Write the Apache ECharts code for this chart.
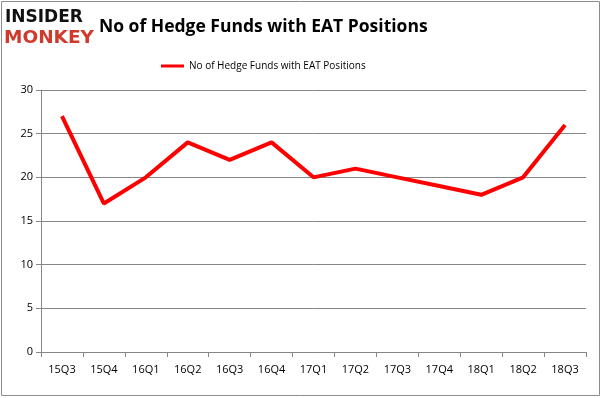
<!DOCTYPE html>
<html>
<head>
<meta charset="UTF-8">
<title>EAT hedge funds</title>
<script src="https://cdn.jsdelivr.net/npm/echarts@6/dist/echarts.min.js"></script>
<style>
  html, body { margin: 0; padding: 0; background: #fff; }
  #chart { width: 602px; height: 398px; }
</style>
</head>
<body>
<div id="chart"></div>
<script>
// data
var quarters = ['15Q3', '15Q4', '16Q1', '16Q2', '16Q3', '16Q4', '17Q1', '17Q2', '17Q3', '17Q4', '18Q1', '18Q2', '18Q3'];
var fundCounts = [27, 17, 20, 24, 22, 24, 20, 21, 20, 19, 18, 20, 26];
var seriesName = 'No of Hedge Funds with EAT Positions';
var chartTitle = 'No of Hedge Funds with EAT Positions';

var myChart = echarts.init(document.getElementById('chart'));
var axisGray = '#868686';
var font = 'Open Sans';

myChart.setOption({
  backgroundColor: '#fff',
  animation: false,
  title: {
    text: chartTitle,
    left: 94,
    top: 13,
    textStyle: { color: '#000', fontSize: 17.5, fontWeight: 'bold', fontFamily: font }
  },
  legend: {
    data: [seriesName],
    top: 56,
    left: 156,
    itemWidth: 23,
    itemHeight: 3,
    icon: 'rect',
    itemGap: 4,
    textStyle: { color: '#000', fontSize: 10, fontFamily: font }
  },
  grid: { left: 41, right: 16, top: 90, bottom: 46 },
  xAxis: {
    type: 'category',
    data: quarters,
    boundaryGap: true,
    axisLine: { lineStyle: { color: axisGray } },
    axisTick: { show: true, length: 5, lineStyle: { color: axisGray } },
    axisLabel: { color: '#000', fontSize: 11, fontFamily: font, margin: 12 }
  },
  yAxis: {
    type: 'value',
    min: 0,
    max: 30,
    interval: 5,
    axisLine: { show: true, lineStyle: { color: axisGray } },
    axisTick: { show: true, length: 5, lineStyle: { color: axisGray } },
    axisLabel: { color: '#000', fontSize: 11, fontFamily: font, margin: 8 },
    splitLine: { lineStyle: { color: axisGray } }
  },
  series: [{
    name: seriesName,
    type: 'line',
    data: fundCounts,
    symbol: 'none',
    lineStyle: { color: '#ff0000', width: 4 },
    itemStyle: { color: '#ff0000' }
  }],
  graphic: [
    {
      type: 'rect',
      shape: { x: 1.5, y: 1.5, width: 598, height: 394 },
      style: { fill: 'none', stroke: '#8c8c8c', lineWidth: 1 },
      silent: true
    },
    {
      type: 'text',
      left: 5,
      top: 9,
      style: { text: 'INSIDER', fill: '#111', font: 'bold 17px "DejaVu Sans"' }
    },
    {
      type: 'text',
      left: 4,
      top: 29,
      style: { text: 'MONKEY', fill: '#d03a2a', font: 'bold 18.5px "DejaVu Sans"' }
    }
  ]
});
</script>
</body>
</html>
